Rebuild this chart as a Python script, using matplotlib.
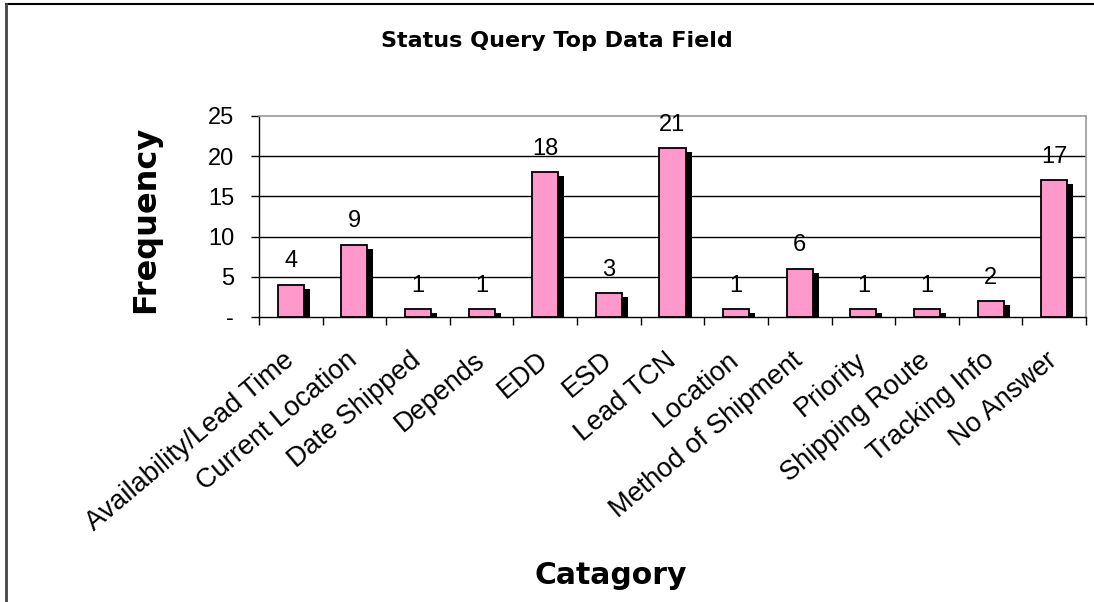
"""
Status Query Top Data Field - wykres słupkowy w stylu Excela (różowe słupki z cieniem).
"""

import numpy as np
import matplotlib
matplotlib.use("Agg")
import matplotlib.pyplot as plt
import matplotlib.transforms as mtransforms
from matplotlib.lines import Line2D

# ==== DANE ====
CATEGORIES = [
    "Availability/Lead Time", "Current Location", "Date Shipped", "Depends",
    "EDD", "ESD", "Lead TCN", "Location", "Method of Shipment", "Priority",
    "Shipping Route", "Tracking Info", "No Answer",
]
FREQUENCY = [4, 9, 1, 1, 18, 3, 21, 1, 6, 1, 1, 2, 17]
Y_TICKS = [0, 5, 10, 15, 20, 25]
Y_TICK_LABELS = ["-", "5", "10", "15", "20", "25"]

# ==== KONFIGURACJA ====
W, H, DPI = 1094, 602, 100
BAR_COLOR = "#FF99CC"
BAR_WIDTH = 0.41
TICK_FS = 17
XLABEL_FS = 19.5
XLABEL_ROT = 40
BOLD_FONT = ["DejaVu Sans"]

plt.rcParams["font.family"] = ["Liberation Sans", "DejaVu Sans"]

fig = plt.figure(figsize=(W / DPI, H / DPI), dpi=DPI)
ax = fig.add_axes([259 / W, 1 - 317 / H, (1086 - 259) / W, (317 - 116) / H])

x = np.arange(len(CATEGORIES)) + 0.5

# cień słupków (przesunięty w prawo i w dół)
shadow = mtransforms.ScaledTranslation(6 / DPI, -4 / DPI, fig.dpi_scale_trans)
ax.bar(x, FREQUENCY, width=BAR_WIDTH, color="black", linewidth=0,
       transform=ax.transData + shadow, zorder=2)
ax.bar(x, FREQUENCY, width=BAR_WIDTH, color=BAR_COLOR, edgecolor="black",
       linewidth=1.3, zorder=3)

# etykiety wartości
for xi, v in zip(x, FREQUENCY):
    ax.annotate(str(v), (xi, v), xytext=(0, 12.5), textcoords="offset points",
                ha="center", va="baseline", fontsize=TICK_FS)

ax.set_xlim(0, len(CATEGORIES))
ax.set_ylim(0, 25)

# oś Y
ax.set_yticks(Y_TICKS, Y_TICK_LABELS, fontsize=TICK_FS)
ax.tick_params(axis="y", length=6, width=1, pad=12)
for yv in Y_TICKS[1:-1]:
    ax.axhline(yv, color="black", linewidth=1, zorder=1)

# oś X: kreski na granicach kategorii, podpisy w środku
ax.set_xticks(np.arange(len(CATEGORIES) + 1))
ax.set_xticklabels([])
ax.tick_params(axis="x", which="major", length=6, width=1)
ax.set_xticks(x, minor=True)
ax.set_xticklabels(CATEGORIES, minor=True, rotation=XLABEL_ROT, ha="right",
                   va="center", rotation_mode="anchor", fontsize=XLABEL_FS)
ax.tick_params(axis="x", which="minor", length=0, pad=29)

for side in ("top", "right"):
    ax.spines[side].set_color("#999999")
    ax.spines[side].set_linewidth(1.2)
for side in ("left", "bottom"):
    ax.spines[side].set_linewidth(1)

# tytuł i opisy osi
fig.text(557 / W, 1 - 41 / H, "Status Query Top Data Field", ha="center",
         va="center", fontsize=16, fontweight="bold", family=BOLD_FONT)
fig.text(146 / W, 1 - 219 / H, "Frequency", ha="center", va="center",
         rotation=90, fontsize=23, fontweight="bold", family=BOLD_FONT)
fig.text(611 / W, 1 - 575 / H, "Catagory", ha="center", va="center",
         fontsize=21.5, fontweight="bold", family=BOLD_FONT)

# ramka wykresu (widoczna góra i lewa krawędź)
fig.add_artist(Line2D([6 / W, 1], [1 - 4 / H, 1 - 4 / H], color="black",
                      linewidth=1.5, transform=fig.transFigure))
fig.add_artist(Line2D([6 / W, 6 / W], [0, 1 - 4 / H], color="#444444",
                      linewidth=2, transform=fig.transFigure))

fig.savefig("out.png", dpi=DPI)
